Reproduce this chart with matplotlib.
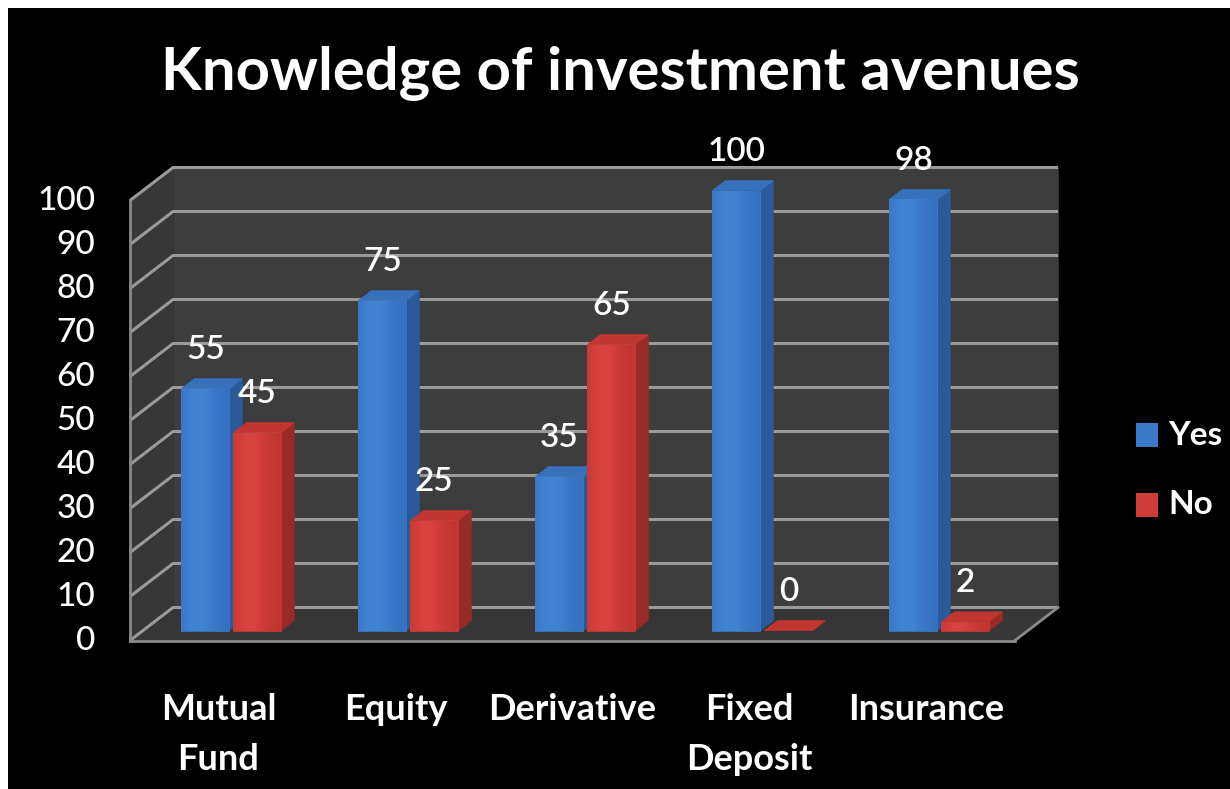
import numpy as np
import matplotlib.pyplot as plt
from matplotlib.colors import LinearSegmentedColormap
from matplotlib.patches import Polygon, Rectangle

categories = ['Mutual\nFund', 'Equity', 'Derivative', 'Fixed\nDeposit', 'Insurance']
yes_values = [55, 75, 35, 100, 98]
no_values = [45, 25, 65, 0, 2]
series_names = ['Yes', 'No']
y_ticks = list(range(0, 101, 10))

plt.rcParams['font.family'] = ['Lato', 'DejaVu Sans']

W, H = 1230, 789
fig = plt.figure(figsize=(W / 100, H / 100), dpi=100, facecolor='white')
fig.patches.append(Rectangle((8 / W, 0), 1, 1 - 8 / H, transform=fig.transFigure,
                             facecolor='black', edgecolor='none', zorder=-5))
ax = fig.add_axes([0, 0, 1, 1])
ax.set_facecolor('none')
ax.axis('off')

# front plane: one category slot = 177 px wide, one value unit = 4.4 px tall
x0_px, y0_px, slot_px, unit_px = 130, 640.5, 177, 4.4
xlim = (-x0_px / slot_px, (W - x0_px) / slot_px)
ylim = (-(H - y0_px) / unit_px, y0_px / unit_px)

# depth direction of the fake 3d box (in data units)
DX, DY = 43 / slot_px, 33 / unit_px
n = len(categories)
vmax = y_ticks[-1]


def proj(x, v, d):
    return (x + d * DX, v + d * DY)


def face(pts, color, z):
    p = Polygon(pts, closed=True, facecolor=color, edgecolor=color,
                linewidth=0.5, zorder=z)
    ax.add_patch(p)
    return p


wall = '#3d3d3d'
grid = '#9a9a9a'

# back wall, left wall, floor
face([proj(0, 0, 1), proj(n, 0, 1), proj(n, vmax, 1), proj(0, vmax, 1)], wall, 1)
face([proj(0, 0, 0), proj(0, 0, 1), proj(0, vmax, 1), proj(0, vmax, 0)], '#373737', 1)
face([proj(0, 0, 0), proj(n, 0, 0), proj(n, 0, 1), proj(0, 0, 1)], '#363636', 1)

for v in y_ticks:
    xs, ys = zip(proj(0, v, 0), proj(0, v, 1), proj(n, v, 1))
    ax.plot(xs, ys, color=grid, lw=2.2, zorder=2, solid_capstyle='butt')
    ax.text(-35 / slot_px, v, str(v), ha='right', va='center',
            color='white', fontsize=24, fontweight='medium')

# edges of the box
for a, b in [((0, 0, 0), (0, vmax, 0)), ((0, 0, 0), (n, 0, 0)), ((n, 0, 0), (n, 0, 1))]:
    xs, ys = zip(proj(*a), proj(*b))
    ax.plot(xs, ys, color='#8a8a8a', lw=2, zorder=2)

# bars
w = 48 / slot_px
gap = 4 / slot_px
d0, d1 = 0.3, 0.6
colors = [
    {'front': '#3b7bcc', 'light': '#4284d4', 'dark': '#3671c0', 'side': '#2a5a9a', 'top': '#3770bb'},
    {'front': '#cf3b36', 'light': '#d8433e', 'dark': '#c13631', 'side': '#992a27', 'top': '#c23631'},
]
# soft highlight a little left of centre on each front face
shade = np.linspace(0, 1, 128)
shade = np.exp(-((shade - 0.35) / 0.35) ** 2)[None, :]

for i in range(n):
    for s, vals in enumerate([yes_values, no_values]):
        v = vals[i]
        left = i + 0.5 - gap / 2 - w if s == 0 else i + 0.5 + gap / 2
        right = left + w
        c = colors[s]
        z = 3 + i * 2 + s
        face([proj(right, 0, d0), proj(right, 0, d1), proj(right, v, d1), proj(right, v, d0)], c['side'], z)
        face([proj(left, v, d0), proj(right, v, d0), proj(right, v, d1), proj(left, v, d1)], c['top'], z)
        if v > 0:
            p = face([proj(left, 0, d0), proj(right, 0, d0), proj(right, v, d0), proj(left, v, d0)], c['front'], z)
            (fx0, fy0), (fx1, fy1) = proj(left, 0, d0), proj(right, v, d0)
            cmap = LinearSegmentedColormap.from_list('f', [c['dark'], c['light']])
            im = ax.imshow(shade, cmap=cmap, vmin=0, vmax=1, aspect='auto',
                           extent=(fx0, fx1, fy0, fy1), zorder=z, interpolation='bilinear')
            im.set_clip_path(p)
        lx, ly = proj(left + w / 2, v, d0)
        ax.text(lx, ly + 8.8, str(v), ha='center', va='center', color='white',
                fontsize=24, fontweight='semibold', zorder=20)

ax.set_xlim(*xlim)
ax.set_ylim(*ylim)

# category labels
for i, cat in enumerate(categories):
    ax.text(i + 0.5, -12.0, cat, ha='center', va='top', color='white',
            fontsize=26, fontweight='bold', linespacing=1.6)

# title
fig.text(620 / W, 1 - 90 / H, 'Knowledge of investment avenues', ha='center',
         va='baseline', color='white', fontsize=43, fontweight='bold')

# legend
for k, (name, c) in enumerate(zip(series_names, colors)):
    yc = 435 + 70 * k
    fig.patches.append(Rectangle((1136 / W, 1 - (yc + 12) / H), 22 / W, 24 / H,
                                 transform=fig.transFigure, facecolor=c['front'],
                                 edgecolor='none', zorder=5))
    fig.text(1168 / W, 1 - yc / H, name, ha='left', va='center', color='white',
             fontsize=24, fontweight='bold')

fig.savefig('out.png', dpi=100, facecolor=fig.get_facecolor())
